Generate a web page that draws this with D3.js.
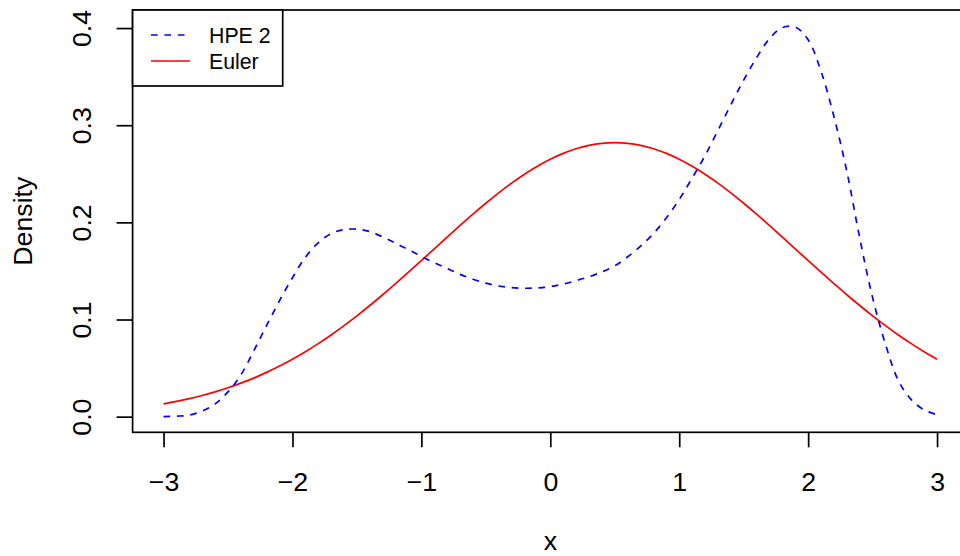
<!DOCTYPE html>
<html>
<head>
<meta charset="utf-8">
<script src="https://cdn.jsdelivr.net/npm/d3@7"></script>
<style>
  html, body { margin: 0; padding: 0; background: #fff; }
  svg { display: block; font-family: "Liberation Sans", Arial, Helvetica, sans-serif; }
</style>
</head>
<body>
<svg id="chart" width="960" height="556"></svg>
<script>
// ---- data ----
const xValues = [-3.0,-2.9,-2.8,-2.7,-2.6,-2.5,-2.4,-2.3,-2.2,-2.1,-2.0,-1.9,-1.8,-1.7,-1.6,-1.5,-1.4,-1.3,-1.2,-1.1,-1.0,
  -0.9,-0.8,-0.7,-0.6,-0.5,-0.4,-0.3,-0.2,-0.1,0.0,0.1,0.2,0.3,0.4,0.5,0.6,0.7,0.8,0.9,1.0,
  1.1,1.2,1.3,1.4,1.5,1.6,1.7,1.8,1.9,2.0,2.1,2.2,2.3,2.4,2.5,2.6,2.7,2.8,2.9,3.0];
const hpe2 = [0.0000,0.0005,0.0016,0.0058,0.0131,0.0255,0.0430,0.0678,0.0940,0.1195,0.1430,
  0.1640,0.1790,0.1885,0.1925,0.1930,0.1905,0.1850,0.1785,0.1720,0.1650,
  0.1585,0.1525,0.1465,0.1415,0.1375,0.1345,0.1328,0.1322,0.1325,0.1338,
  0.1365,0.1400,0.1440,0.1490,0.1553,0.1645,0.1755,0.1885,0.2045,0.2235,
  0.2455,0.2685,0.2945,0.3210,0.3465,0.3695,0.3890,0.4005,0.4010,0.3880,
  0.3555,0.3090,0.2525,0.1840,0.1225,0.0745,0.0370,0.0175,0.0070,0.0020];
const euler = [0.0132,0.0157,0.0185,0.0218,0.0255,0.0297,0.0345,0.0397,0.0456,0.0521,0.0591,
  0.0668,0.0752,0.0841,0.0937,0.1038,0.1144,0.1255,0.1370,0.1487,0.1607,
  0.1728,0.1849,0.1968,0.2085,0.2197,0.2304,0.2404,0.2496,0.2578,0.2650,
  0.2710,0.2758,0.2793,0.2814,0.2821,0.2814,0.2793,0.2758,0.2710,0.2650,
  0.2578,0.2496,0.2404,0.2304,0.2197,0.2085,0.1968,0.1849,0.1728,0.1607,
  0.1487,0.1370,0.1255,0.1144,0.1038,0.0937,0.0841,0.0752,0.0668,0.0591];
const xTicks = [-3,-2,-1,0,1,2,3];
const xTickLabels = ["\u22123","\u22122","\u22121","0","1","2","3"];
const yTicks = [0,0.1,0.2,0.3,0.4];
const yTickLabels = ["0.0","0.1","0.2","0.3","0.4"];
const seriesNames = ["HPE 2","Euler"];
const seriesColors = ["#0000ff","#ff0000"];

// ---- layout ----
const svg = d3.select("#chart");
const box = {left: 132.6, right: 968, top: 10, bottom: 432.3};
const x = d3.scaleLinear().domain([-3.24, 3.24]).range([box.left, box.right]);
const y = d3.scaleLinear().domain([-0.0161, 0.4186]).range([box.bottom, box.top]);
const lw = 1.7;
const fs = 26.7;
const lfs = 21.3;

const line = d3.line().x((d, i) => x(xValues[i])).y(d => y(d)).curve(d3.curveCatmullRom.alpha(0.5));

// curves
svg.append("path").datum(euler)
  .attr("d", line).attr("fill", "none")
  .attr("stroke", seriesColors[1]).attr("stroke-width", lw);
svg.append("path").datum(hpe2)
  .attr("d", line).attr("fill", "none")
  .attr("stroke", seriesColors[0]).attr("stroke-width", lw)
  .attr("stroke-dasharray", "6.7,6.7");

// plot frame
svg.append("rect")
  .attr("x", box.left).attr("y", box.top)
  .attr("width", box.right - box.left).attr("height", box.bottom - box.top)
  .attr("fill", "none").attr("stroke", "#000").attr("stroke-width", lw);

// x axis
const xAxis = d3.axisBottom(x).tickValues(xTicks)
  .tickFormat((d, i) => xTickLabels[i]).tickSizeInner(15).tickSizeOuter(0).tickPadding(0);
const gx = svg.append("g").attr("transform", `translate(0,${box.bottom})`).call(xAxis);
gx.select(".domain").remove();
gx.selectAll(".tick line").attr("stroke", "#000").attr("stroke-width", lw);
gx.selectAll(".tick text").attr("font-size", fs).attr("fill", "#000")
  .attr("font-family", "Liberation Sans, Arial, sans-serif")
  .attr("y", 491 - box.bottom).attr("dy", null);

// y axis
const yAxis = d3.axisLeft(y).tickValues(yTicks)
  .tickFormat((d, i) => yTickLabels[i]).tickSizeInner(16).tickSizeOuter(0);
const gy = svg.append("g").attr("transform", `translate(${box.left},0)`).call(yAxis);
gy.select(".domain").remove();
gy.selectAll(".tick line").attr("stroke", "#000").attr("stroke-width", lw);
gy.selectAll(".tick text")
  .attr("x", null).attr("dy", null)
  .attr("text-anchor", "middle")
  .attr("font-size", fs).attr("fill", "#000")
  .attr("font-family", "Liberation Sans, Arial, sans-serif")
  .attr("transform", `translate(${90.5 - box.left},0) rotate(-90)`);

// axis titles
svg.append("text").attr("x", (box.left + box.right) / 2).attr("y", 550)
  .attr("text-anchor", "middle").attr("font-size", fs).text("x");
svg.append("text")
  .attr("transform", `translate(32,${(box.top + box.bottom) / 2}) rotate(-90)`)
  .attr("text-anchor", "middle").attr("font-size", fs).text("Density");

// legend
const lg = svg.append("g");
lg.append("rect").attr("x", box.left).attr("y", box.top)
  .attr("width", 282.7 - box.left).attr("height", 86 - box.top)
  .attr("fill", "#fff").attr("stroke", "#000").attr("stroke-width", lw);
seriesNames.forEach((name, i) => {
  const yy = 35 + i * 26;
  lg.append("line").attr("x1", 151).attr("x2", 190).attr("y1", yy).attr("y2", yy)
    .attr("stroke", seriesColors[i]).attr("stroke-width", lw)
    .attr("stroke-dasharray", i === 0 ? "6.7,6.7" : null);
  lg.append("text").attr("x", 209).attr("y", yy + 7.6)
    .attr("font-size", lfs).attr("fill", "#000").text(name);
});
</script>
</body>
</html>
